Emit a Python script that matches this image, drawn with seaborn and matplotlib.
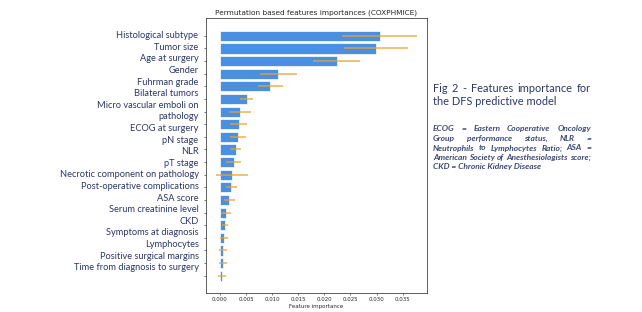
import numpy as np
import pandas as pd
import seaborn as sns
import matplotlib
matplotlib.use('Agg')
import matplotlib.pyplot as plt

features = ['Histological subtype', 'Tumor size', 'Age at surgery', 'Gender',
            'Fuhrman grade', 'Bilateral tumors', 'Micro vascular emboli on\npathology',
            'ECOG at surgery', 'pN stage', 'NLR', 'pT stage',
            'Necrotic component on pathology', 'Post-operative complications',
            'ASA score', 'Serum creatinine level', 'CKD', 'Symptoms at diagnosis',
            'Lymphocytes', 'Positive surgical margins', 'Time from diagnosis to surgery']
importance = [0.0306, 0.0299, 0.0224, 0.0112, 0.0096, 0.0051, 0.0038, 0.0036,
              0.0034, 0.0030, 0.0026, 0.0023, 0.0022, 0.0018, 0.0012, 0.0009,
              0.0008, 0.0006, 0.0006, 0.0004]
importance_std = [0.0072, 0.0062, 0.0045, 0.0035, 0.0024, 0.0013, 0.0021, 0.0016,
                  0.0015, 0.0011, 0.0015, 0.0031, 0.0010, 0.0010, 0.0010, 0.0006,
                  0.0008, 0.0007, 0.0008, 0.0007]

heading = ['Fig 2 - Features importance for', 'the DFS predictive model']
note = ['ECOG = Eastern Cooperative Oncology',
        'Group performance status, NLR =',
        'Neutrophils to Lymphocytes Ratio; ASA =',
        'American Society of Anesthesiologists score;',
        'CKD = Chronic Kidney Disease']

navy = '#2b3667'
df = pd.DataFrame({'feature': [f.replace('\n', ' ') for f in features],
                   'importance': importance, 'std': importance_std})

sns.set_style('white')
plt.rcParams['font.family'] = ['DejaVu Sans']

W, H = 642, 312
fig = plt.figure(figsize=(W / 100, H / 100), dpi=100)
ax = fig.add_axes([205.7 / W, 1 - 293.3 / H, (427.3 - 205.7) / W, (293.3 - 18.3) / H])

sns.barplot(data=df, x='importance', y='feature', orient='h', color='#4a8fe0',
            saturation=1, width=0.8, edgecolor='white', linewidth=0.5, ax=ax)
ax.errorbar(df['importance'], np.arange(len(df)), xerr=df['std'], fmt='none',
            ecolor='#eea22b', alpha=0.85, elinewidth=1.1, capsize=0)

n = len(df)
pad = 0.05 * (n - 1 + 0.8) + 0.4
ax.set_ylim(n - 1 + pad, -pad)
lo = min(0, (df['importance'] - df['std']).min())
hi = (df['importance'] + df['std']).max()
ax.set_xlim(lo - 0.05 * (hi - lo), hi + 0.05 * (hi - lo))
ax.set_xticks(np.arange(0, 0.0351, 0.005))
ax.set_xticklabels([f'{v:.3f}' for v in np.arange(0, 0.0351, 0.005)])

ax.set_title('Permutation based features importances (COXPHMICE)', fontsize=5.3, pad=3)
ax.set_xlabel('Feature importance', fontsize=4.0, labelpad=1)
ax.set_ylabel('')
ax.set_yticklabels([])
ax.tick_params(axis='both', which='both', length=1.5, width=0.5, labelsize=3.9,
               pad=1.5, left=True, bottom=True, color='#444444')
for s in ax.spines.values():
    s.set_linewidth(0.6)
    s.set_color('#444444')

# poster-style feature labels, one line each
lines = []
for f in features:
    lines.extend(f.split('\n'))
for i, line in enumerate(lines):
    y = 35.7 + i * 11.6
    fig.text(198.5 / W, 1 - y / H, line, ha='right', va='center', fontsize=6.7,
             family='Lato', color=navy)

renderer = fig.canvas.get_renderer()


def justified(words_line, x0, x1, y, **kw):
    words = words_line.split(' ')
    objs = [fig.text(0, 0, w, ha='left', va='center', **kw) for w in words]
    widths = [o.get_window_extent(renderer).width for o in objs]
    gap = (x1 - x0 - sum(widths)) / max(len(words) - 1, 1)
    x = x0
    for o, w in zip(objs, widths):
        o.set_position((x / W, 1 - y / H))
        x += w + gap


hkw = dict(fontsize=7.9, family='Lato', color=navy)
justified(heading[0], 433, 591, 89, **hkw)
fig.text(433 / W, 1 - 101.7 / H, heading[1], ha='left', va='center', **hkw)

nkw = dict(fontsize=6.0, family='Lato', style='italic', weight='bold', color='#3d4875')
note_y = [128.3, 138.8, 148.0, 157.3, 167.0]
for line, y in zip(note[:-1], note_y[:-1]):
    justified(line, 433, 591, y, **nkw)
fig.text(433 / W, 1 - note_y[-1] / H, note[-1], ha='left', va='center', **nkw)

fig.savefig('out.png', dpi=100)
